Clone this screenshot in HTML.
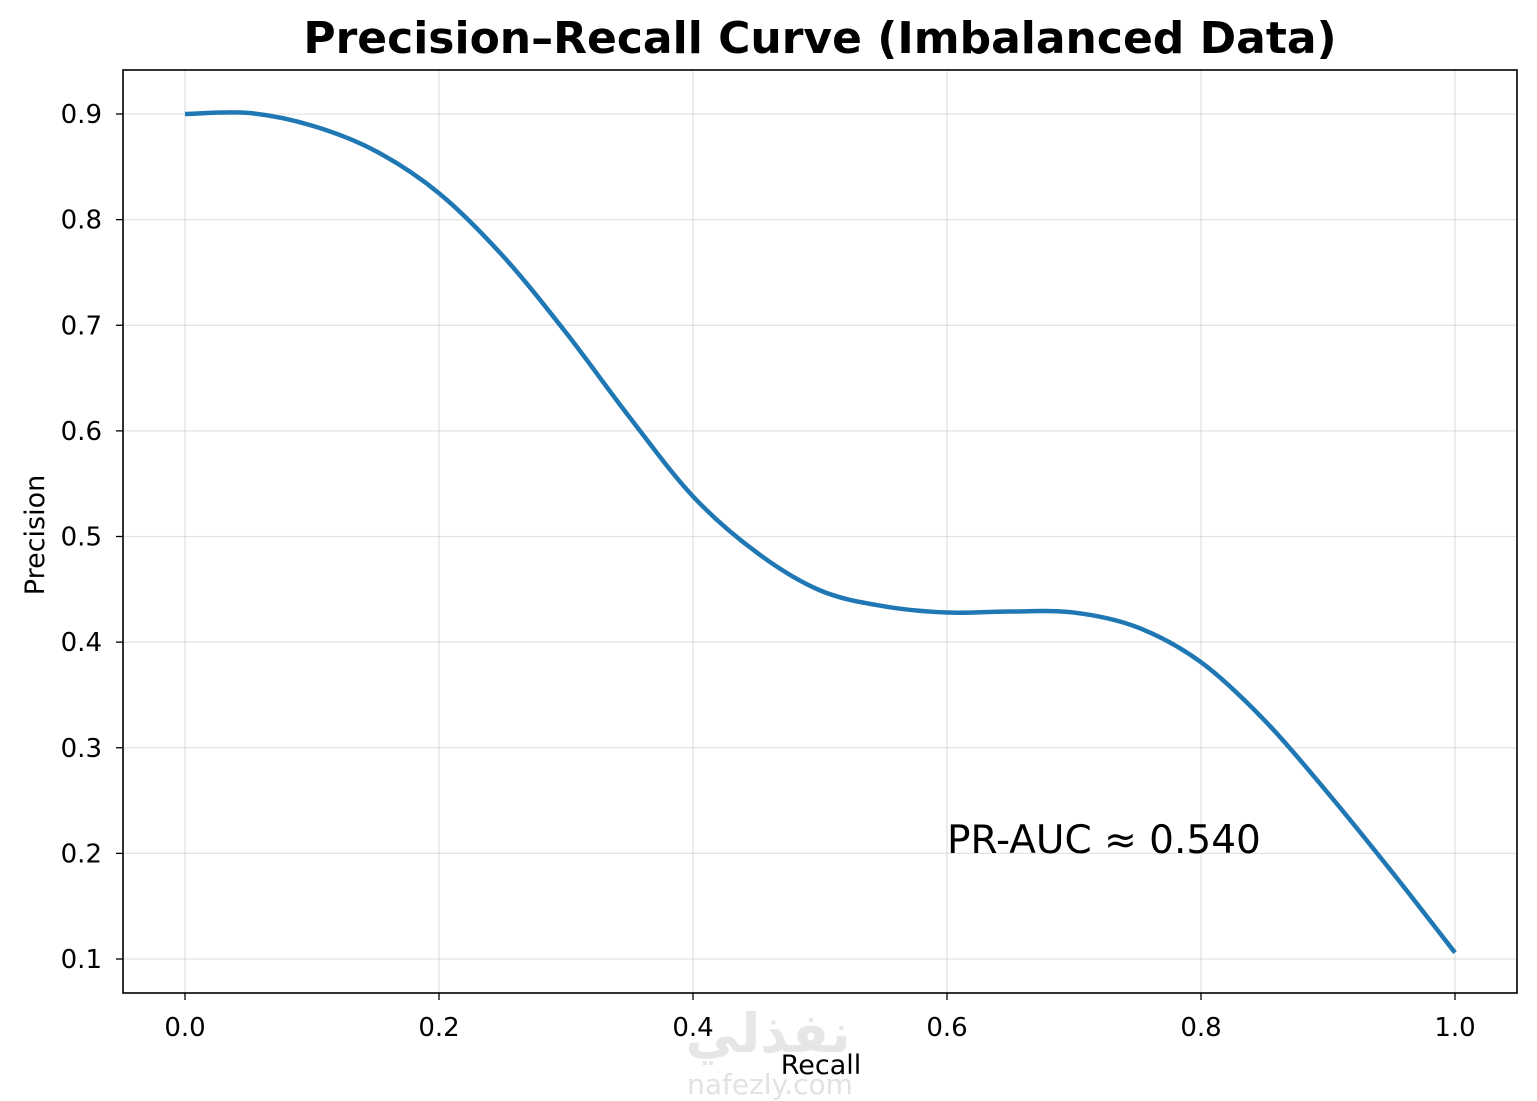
<!DOCTYPE html>
<html><head><meta charset="utf-8"><style>
html,body{margin:0;padding:0;background:#fff;}
svg{display:block;font-family:"DejaVu Sans","Liberation Sans",sans-serif;}
</style></head><body>
<svg id="chart" width="1537" height="1101">
<text x="820" y="53" text-anchor="middle" font-size="44" font-weight="bold">Precision–Recall Curve (Imbalanced Data)</text>
<g id="grid"></g>
<g id="xticks"></g>
<g id="yticks"></g>
<path id="curve" fill="none" stroke="#1f77b4" stroke-width="4.5" stroke-linejoin="round"/>
<rect x="123" y="70" width="1394" height="923" fill="none" stroke="#000" stroke-width="1.6"/>
<text x="947" y="853" font-size="39">PR-AUC ≈ 0.540</text>
<text x="768" y="1052" text-anchor="middle" font-size="54" font-weight="bold" fill="#e6e6e6">نفذلي</text>
<text x="770" y="1094" text-anchor="middle" font-size="28" fill="#e2e2e2">nafezly.com</text>
<text x="821" y="1074" text-anchor="middle" font-size="27">Recall</text>
<text transform="translate(44,535) rotate(-90)" text-anchor="middle" font-size="27">Precision</text>
</svg>
<script>
const recall=[0,0.05,0.1,0.15,0.2,0.25,0.3,0.35,0.4,0.45,0.5,0.55,0.6,0.65,0.7,0.75,0.8,0.85,0.9,0.95,1.0];
const precision=[0.9,0.901,0.889,0.865,0.825,0.766,0.693,0.613,0.538,0.485,0.449,0.434,0.428,0.429,0.428,0.414,0.381,0.326,0.257,0.183,0.106];
const xTickLabels=["0.0","0.2","0.4","0.6","0.8","1.0"];
const yTickLabels=["0.1","0.2","0.3","0.4","0.5","0.6","0.7","0.8","0.9"];
const X=v=>185+v*1270, Y=v=>959-(v-0.1)*1056.25;
const NS="http://www.w3.org/2000/svg";
function mk(t,a,p){const e=document.createElementNS(NS,t);for(const k in a)e.setAttribute(k,a[k]);p.appendChild(e);return e;}
const grid=document.getElementById('grid'),xg=document.getElementById('xticks'),yg=document.getElementById('yticks');
xTickLabels.forEach(s=>{const x=X(+s);
 const g=mk('line',{x1:x,x2:x,y1:70,y2:993,stroke:'#b0b0b0','stroke-opacity':0.35,'stroke-width':1.3},grid);
 
 
 const t=mk('line',{x1:x,x2:x,y1:993,y2:1000,stroke:'#000','stroke-width':1.3},xg);
 
 
 const l=mk('text',{x:x,y:1036,'text-anchor':'middle','font-size':26},xg);l.textContent=s;
 
 
});
yTickLabels.forEach(s=>{const y=Y(+s);
 const g=mk('line',{x1:123,x2:1517,y1:y,y2:y,stroke:'#b0b0b0','stroke-opacity':0.35,'stroke-width':1.3},grid);
 
 
 const t=mk('line',{x1:116,x2:123,y1:y,y2:y,stroke:'#000','stroke-width':1.3},yg);
 
 
 const l=mk('text',{x:102,y:y+9,'text-anchor':'end','font-size':26},yg);l.textContent=s;
 
 
});
const P=recall.map((r,i)=>[X(r),Y(precision[i])]);
let d='M'+P[0][0]+','+P[0][1];
for(let i=0;i<P.length-1;i++){const p0=P[Math.max(0,i-1)],p1=P[i],p2=P[i+1],p3=P[Math.min(P.length-1,i+2)];
 d+=' C'+(p1[0]+(p2[0]-p0[0])/6)+','+(p1[1]+(p2[1]-p0[1])/6)+' '+(p2[0]-(p3[0]-p1[0])/6)+','+(p2[1]-(p3[1]-p1[1])/6)+' '+p2[0]+','+p2[1];}
document.getElementById('curve').setAttribute('d',d);
</script>
</body></html>
